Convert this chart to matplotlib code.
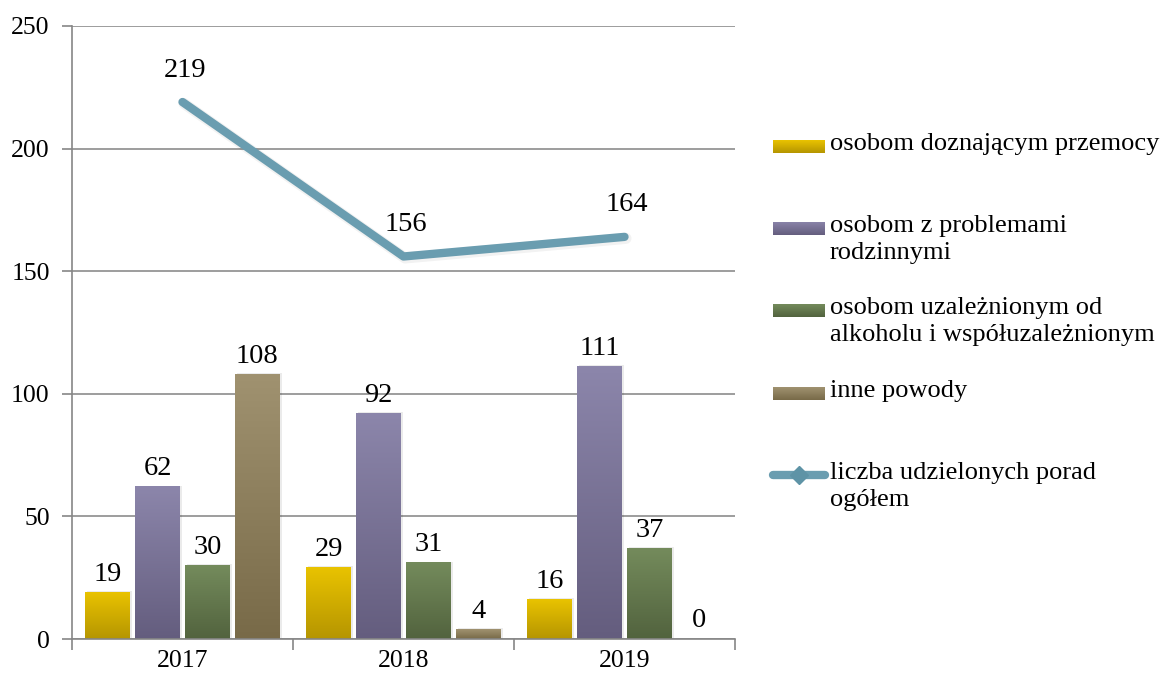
import numpy as np
import matplotlib
matplotlib.use("Agg")
import matplotlib.pyplot as plt
from matplotlib.colors import LinearSegmentedColormap
from matplotlib.lines import Line2D

years = ["2017", "2018", "2019"]
series_names = [
    "osobom doznającym przemocy",
    "osobom z problemami\nrodzinnymi",
    "osobom uzależnionym od\nalkoholu i współuzależnionym",
    "inne powody",
]
violence = [19, 29, 16]
family = [62, 92, 111]
alcohol = [30, 31, 37]
other = [108, 4, 0]
total_name = "liczba udzielonych porad\nogółem"
total = [219, 156, 164]
yticks = [0, 50, 100, 150, 200, 250]

bar_series = [violence, family, alcohol, other]
grads = [("#e9c300", "#b59500"),
         ("#8c86ab", "#645d7e"),
         ("#748b5c", "#52633e"),
         ("#a09270", "#786a48")]
line_color = "#6a9db0"

plt.rcParams['font.family'] = ['Liberation Serif', 'DejaVu Serif']

W, H = 1164, 680
fig = plt.figure(figsize=(W / 100, H / 100), dpi=100)
ax = fig.add_axes([72 / W, 1 - 639 / H, 663 / W, 613 / H])

x = np.arange(len(years))
bw = 0.2
step = 0.226
tick_fs = 18.5
lab_fs = 20.5

containers = []
for i, vals in enumerate(bar_series):
    off = (i - 1.5) * step
    c = ax.bar(x + off, vals, width=bw, color=grads[i][1], zorder=2)
    containers.append(c)
    for rect, v in zip(c, vals):
        ax.annotate(str(v), (rect.get_x() + rect.get_width() / 2, rect.get_height()),
                    xytext=(0, 4), textcoords="offset points",
                    ha="center", va="bottom", fontsize=lab_fs, color="black")

# gradient fill on bars
grad_img = np.linspace(0, 1, 256).reshape(-1, 1)
for cont, (ctop, cbot) in zip(containers, grads):
    cmap = LinearSegmentedColormap.from_list("g", [cbot, ctop])
    for rect in cont:
        x0, w, h = rect.get_x(), rect.get_width(), rect.get_height()
        if h <= 0:
            continue
        ax.add_patch(plt.Rectangle((x0 + 0.006, 0), w + 0.004, h + 0.6,
                                   facecolor="#000000", alpha=0.08, zorder=1.5, lw=0))
        ax.imshow(grad_img, extent=[x0, x0 + w, 0, h], origin="lower",
                  cmap=cmap, aspect="auto", zorder=2.5)
        rect.set_facecolor("none")

# total line
ax.plot(x, total, color="#000000", alpha=0.05, lw=8, zorder=3,
        solid_capstyle="round", transform=ax.transData +
        matplotlib.transforms.ScaledTranslation(1.5 / 100, -1.5 / 100, fig.dpi_scale_trans))
ax.plot(x, total, color=line_color, lw=6, zorder=3.5, solid_capstyle="round",
        solid_joinstyle="round")
for xi, v in zip(x, total):
    ax.annotate(str(v), (xi, v), xytext=(2, 14), textcoords="offset points",
                ha="center", va="bottom", fontsize=lab_fs, color="black")

ax.set_xlim(-0.5, 2.5)
ax.set_ylim(0, 250)
ax.set_yticks(yticks)
ax.set_yticklabels([str(t) for t in yticks], fontsize=tick_fs)
ax.set_xticks(x)
ax.set_xticklabels(years, fontsize=tick_fs)
ax.set_xticks([-0.5, 0.5, 1.5, 2.5], minor=True)
ax.tick_params(axis="x", which="major", length=0, pad=8)
ax.tick_params(axis="x", which="minor", length=8, width=1.2, color="#868686", direction="out")
ax.tick_params(axis="y", length=7, width=1.2, color="#868686", pad=9)
ax.yaxis.grid(True, color="#8c8c8c", lw=1.2, zorder=0)
ax.set_axisbelow(True)
for s in ["top", "right"]:
    ax.spines[s].set_visible(False)
for s in ["left", "bottom"]:
    ax.spines[s].set_color("#868686")
    ax.spines[s].set_linewidth(1.2)

# legend (manual, aligned to first text line)
leg_fs = 19
entry_y = [146, 228, 310, 393, 475]
hx0, hx1 = 773, 825
tx = 830
for i, name in enumerate(series_names):
    yc = entry_y[i]
    hax = fig.add_axes([hx0 / W, 1 - (yc + 7) / H, (hx1 - hx0) / W, 13 / H])
    cmap = LinearSegmentedColormap.from_list("g", [grads[i][1], grads[i][0]])
    hax.imshow(grad_img, origin="lower", cmap=cmap, aspect="auto")
    hax.set_axis_off()
    fig.text(tx / W, 1 - (yc - 13) / H, name, fontsize=leg_fs, ha="left", va="top",
             linespacing=1.3)
yc = entry_y[4]
fig.add_artist(Line2D([hx0 / W, hx1 / W], [1 - yc / H, 1 - yc / H], color=line_color,
                      lw=6, solid_capstyle="round"))
fig.add_artist(Line2D([(hx0 + hx1) / 2 / W], [1 - yc / H], marker="D", color="#5e93a6",
                      markersize=9, lw=0))
fig.text(tx / W, 1 - (yc - 13) / H, total_name, fontsize=leg_fs, ha="left", va="top",
         linespacing=1.3)

fig.savefig("out.png", dpi=100)
